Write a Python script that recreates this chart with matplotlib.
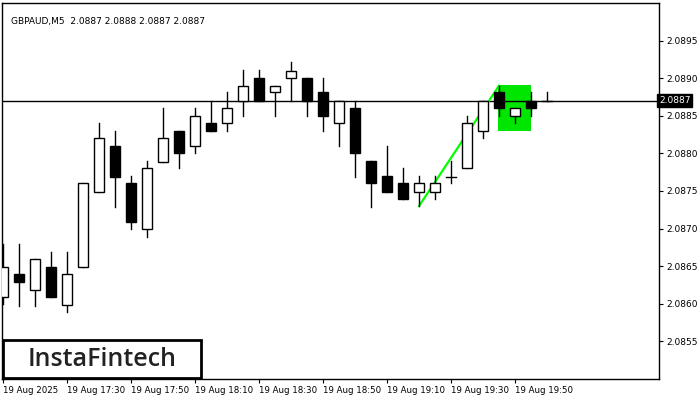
import matplotlib
matplotlib.use("Agg")
import matplotlib.pyplot as plt
from matplotlib.patches import Rectangle

opens  = [2.08609,2.08639,2.08618,2.08649,2.08598,2.08649,2.08749,2.0881,2.0876,2.087,
          2.08789,2.0883,2.0881,2.08841,2.08841,2.0887,2.089,2.08881,2.089,2.089,
          2.08881,2.08841,2.08861,2.0879,2.0877,2.0876,2.08749,2.08749,2.08769,2.0878,
          2.0883,2.08881,2.0885,2.0887,2.0887]
highs  = [2.0868,2.0868,2.08659,2.08669,2.08669,2.0876,2.08841,2.0883,2.0877,2.0879,
          2.08861,2.0883,2.08861,2.0887,2.08881,2.08911,2.08911,2.0889,2.08921,2.089,
          2.089,2.0887,2.0887,2.0879,2.0881,2.0878,2.0877,2.0877,2.0879,2.0885,
          2.0887,2.0889,2.08861,2.08881,2.08881]
lows   = [2.0860,2.08597,2.08597,2.08609,2.08589,2.08649,2.08749,2.08729,2.087,2.08689,
          2.08789,2.0878,2.088,2.0883,2.0883,2.0885,2.0887,2.0885,2.0887,2.0885,
          2.0883,2.0881,2.08769,2.08729,2.08749,2.0874,2.0873,2.0874,2.0876,2.0878,
          2.0882,2.0885,2.0884,2.0885,2.0887]
closes = [2.08649,2.08629,2.08659,2.08609,2.08639,2.0876,2.08821,2.08769,2.08709,2.0878,
          2.08821,2.088,2.0885,2.0883,2.08861,2.0889,2.0887,2.0889,2.0891,2.0887,
          2.0885,2.0887,2.088,2.0876,2.08749,2.0874,2.0876,2.0876,2.08769,2.08841,
          2.0887,2.08861,2.08861,2.08861,2.0887]
tick_labels = ["19 Aug 2025","19 Aug 17:30","19 Aug 17:50","19 Aug 18:10","19 Aug 18:30",
               "19 Aug 18:50","19 Aug 19:10","19 Aug 19:30","19 Aug 19:50"]
y_ticks = [2.0855,2.0860,2.0865,2.0870,2.0875,2.0880,2.0885,2.0890,2.0895]
current_price = 2.0887
flag_line_x = [26, 31]
flag_line_y = [2.0873, 2.0889]
box_x = [30.94, 33.0]
box_y = [2.0883, 2.08891]

fig = plt.figure(figsize=(7, 4), dpi=100)
ax = fig.add_axes([2/700, 1-379/400, 657/700, 376/400])
ax.set_xlim(-0.0625, 41.0)
ax.set_ylim(2.0850, 2.0900)

ax.add_patch(Rectangle((box_x[0], box_y[0]), box_x[1]-box_x[0], box_y[1]-box_y[0],
                       facecolor="#00e600", edgecolor="none", zorder=1))
ax.axhline(current_price, color="black", lw=1, zorder=2)
ax.plot(flag_line_x, flag_line_y, color="#00ff00", lw=1.6, zorder=3)

w = 0.62
for i, (o, h, l, c) in enumerate(zip(opens, highs, lows, closes)):
    ax.plot([i, i], [l, h], color="black", lw=1, zorder=4)
    lo, hi = min(o, c), max(o, c)
    if hi - lo < 1e-6:
        ax.plot([i-w/2, i+w/2], [o, o], color="black", lw=1, zorder=5)
    else:
        fc = "black" if c < o else "white"
        ax.add_patch(Rectangle((i-w/2, lo), w, hi-lo, facecolor=fc, edgecolor="black",
                               lw=1, zorder=5))

ax.yaxis.tick_right()
ax.set_yticks(y_ticks)
ax.set_yticklabels([f"{v:.4f}" for v in y_ticks], fontsize=6.5)
ax.set_xticks([4*k for k in range(len(tick_labels))])
ax.set_xticklabels(tick_labels, fontsize=6.2, ha="left")
ax.tick_params(length=3, pad=2)
for s in ax.spines.values():
    s.set_linewidth(1)

ax.text(1.0, current_price, f"{current_price:.4f}", transform=ax.get_yaxis_transform(),
        fontsize=6.5, color="white", va="center", ha="left",
        bbox=dict(boxstyle="square,pad=0.2", fc="black", ec="black"), zorder=10,
        clip_on=False)
ax.text(0.5, 2.08975, "GBPAUD,M5  2.0887 2.0888 2.0887 2.0887", fontsize=6.5, va="center")

fig.patches.append(Rectangle((3/700, 1-378/400), 198/700, 38/400, transform=fig.transFigure,
                             facecolor="white", edgecolor="black", lw=2, zorder=20))
fig.text(102/700, 1-359/400, "InstaFintech", fontsize=18, color="#222222",
         ha="center", va="center", zorder=21, family="Open Sans", weight="semibold")

fig.savefig("out.png", dpi=100)
